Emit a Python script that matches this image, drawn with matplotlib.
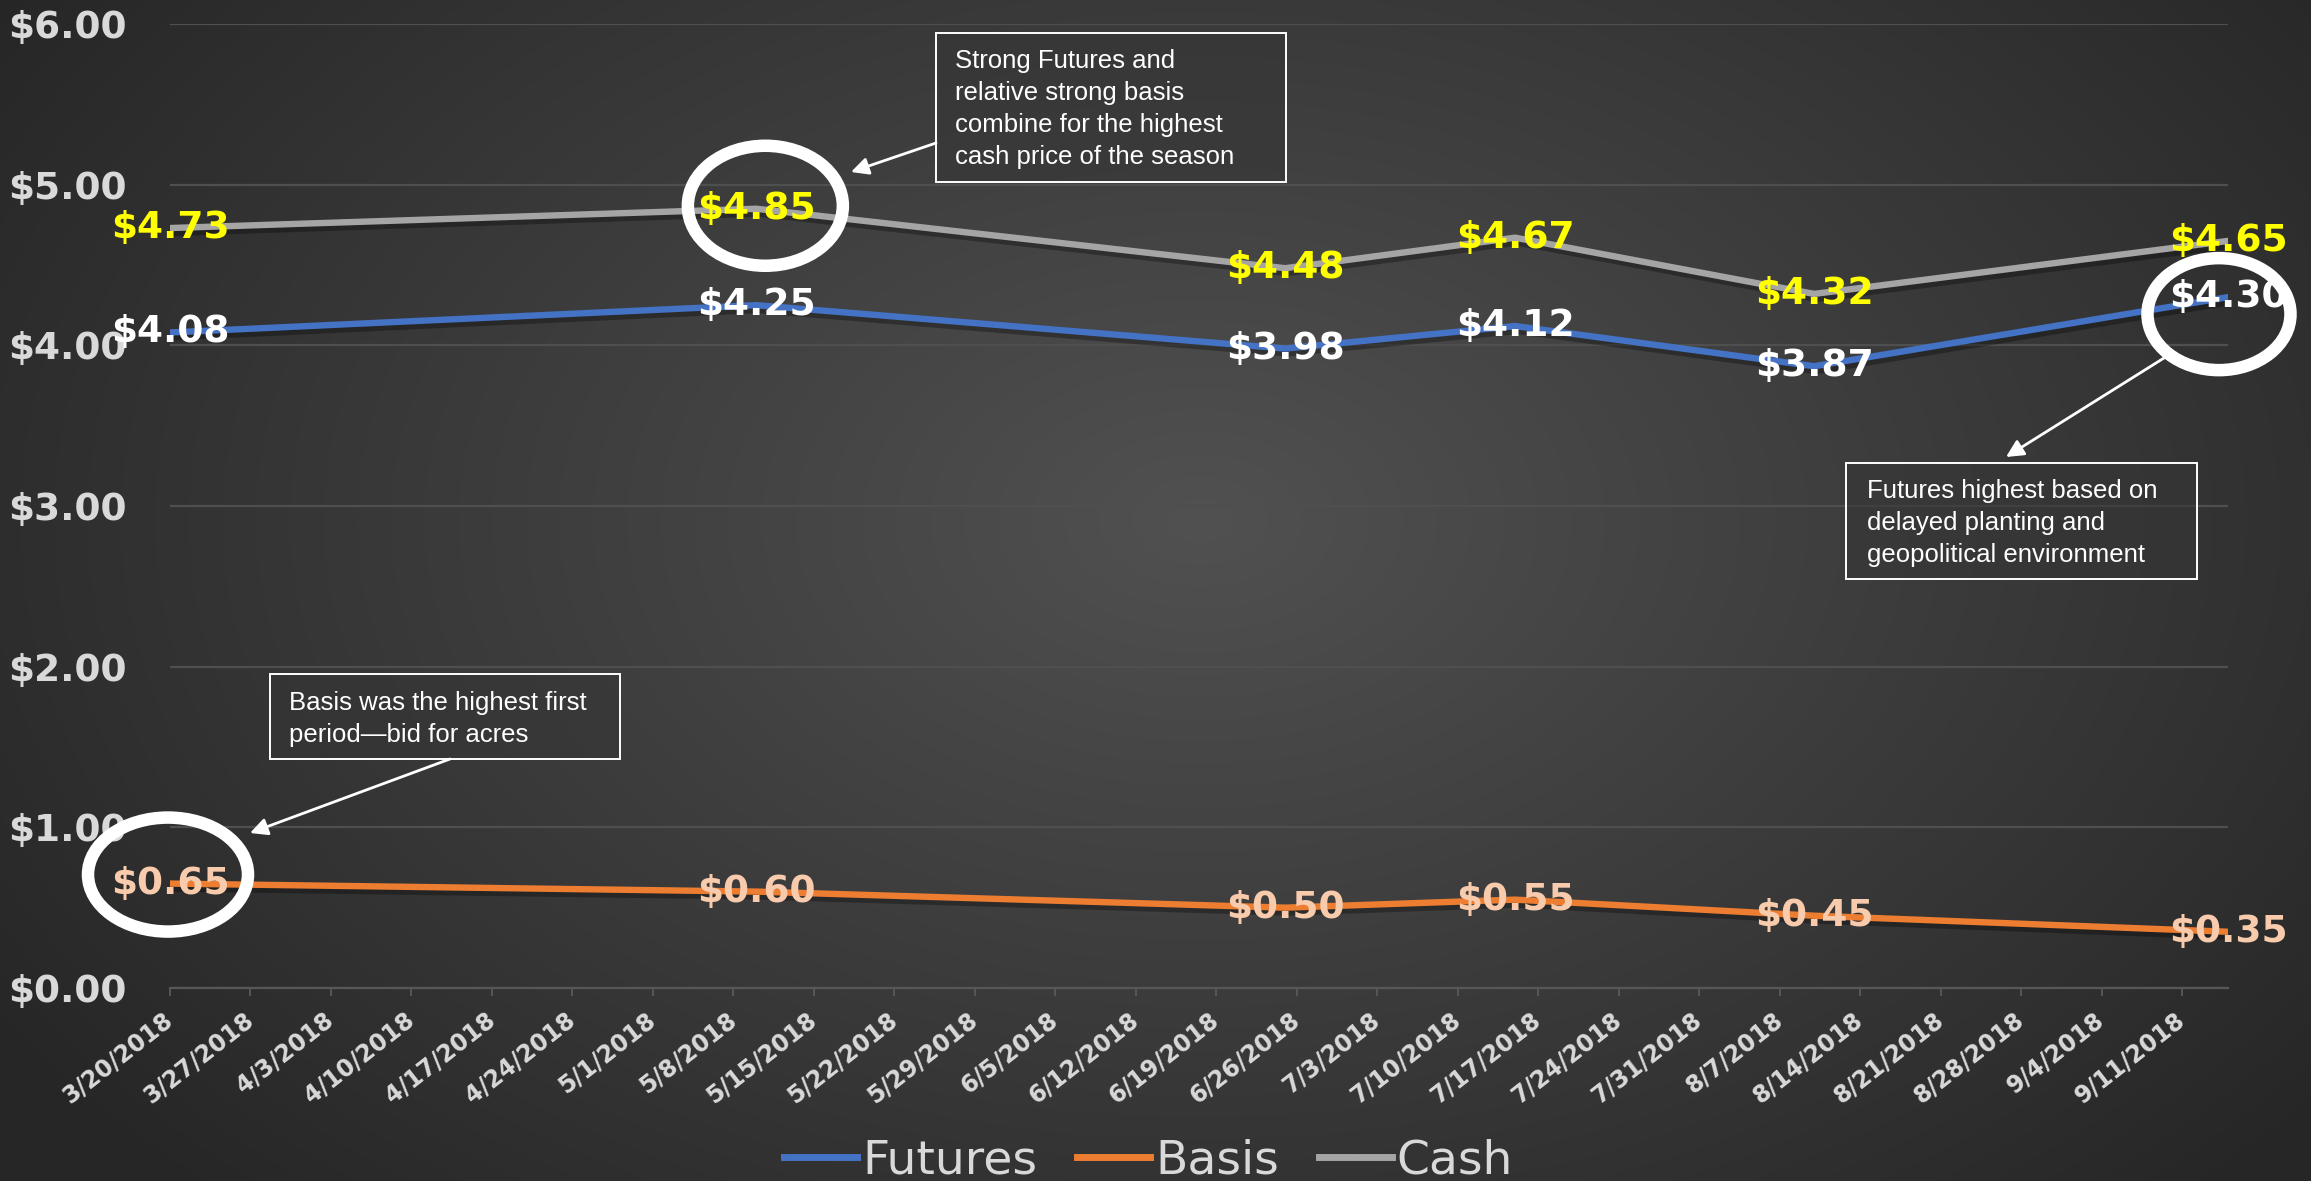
import matplotlib
matplotlib.use("Agg")
import matplotlib.pyplot as plt
import matplotlib.dates as mdates
import matplotlib.patheffects as pe
from matplotlib.patches import Ellipse, Rectangle, FancyArrowPatch
from matplotlib.lines import Line2D
import numpy as np
import pandas as pd

plt.rcParams["font.family"] = ["Liberation Sans", "DejaVu Sans"]

# --- data ---
obs_dates = ["2018-03-20", "2018-05-10", "2018-06-25", "2018-07-15", "2018-08-10", "2018-09-15"]
futures = [4.08, 4.25, 3.98, 4.12, 3.87, 4.30]
basis = [0.65, 0.60, 0.50, 0.55, 0.45, 0.35]
cash = [4.73, 4.85, 4.48, 4.67, 4.32, 4.65]
tick_start, tick_end = "2018-03-20", "2018-09-11"
y_ticks = [0, 1, 2, 3, 4, 5, 6]

notes = [
    "Strong Futures and\nrelative strong basis\ncombine for the highest\ncash price of the season",
    "Basis was the highest first\nperiod\u2014bid for acres",
    "Futures highest based on\ndelayed planting and\ngeopolitical environment",
]

W, H = 2311, 1181
BLUE, ORANGE, GREY = "#4472C4", "#ED7D31", "#A5A5A5"
LABEL_GREY = "#D9D9D9"
WIDE = "DejaVu Sans"   # the slide is stretched sideways; DejaVu's wider glyphs fit better


def fx(x):
    return x / W


def fy(y):
    return 1 - y / H


fig = plt.figure(figsize=(W / 100, H / 100), dpi=100)

# dark radial gradient background like the slide
bg = fig.add_axes([0, 0, 1, 1])
bg.set_axis_off()
yy, xx = np.mgrid[0:H, 0:W]
r = np.clip(np.hypot((xx - 1200) / 1450.0, (yy - 520) / 950.0), 0, 1)
lvl = (0x51 + (0x26 - 0x51) * r) / 255.0
bg.imshow(np.dstack([lvl, lvl, lvl]), aspect="auto", extent=(0, 1, 0, 1))
bg.set_xlim(0, 1)
bg.set_ylim(0, 1)

ax = fig.add_axes([fx(170), fy(988), fx(2228) - fx(170), fy(24) - fy(988)])
ax.patch.set_alpha(0)

x = mdates.date2num(pd.to_datetime(obs_dates))
shadow = [pe.SimpleLineShadow(offset=(1.5, -3.5), shadow_color="black", alpha=0.3),
          pe.Normal()]
for ys, col in [(futures, BLUE), (basis, ORANGE), (cash, GREY)]:
    ax.plot(x, ys, color=col, lw=4.6, solid_joinstyle="miter", zorder=3, path_effects=shadow)

ax.set_xlim(x[0], x[-1])
ax.set_ylim(0, 6)

# axes styling
ax.set_yticks(y_ticks)
ax.set_yticklabels([f"${v:.2f}" for v in y_ticks])
ax.yaxis.grid(True, color="#4f4f4f", lw=1.6, zorder=0)
ax.tick_params(axis="y", length=0, pad=31, labelsize=27, labelcolor=LABEL_GREY)
for side in ["left", "right", "top"]:
    ax.spines[side].set_visible(False)
ax.spines["bottom"].set_color("#575757")
ax.spines["bottom"].set_linewidth(1.6)

tick_dates = pd.date_range(tick_start, tick_end, freq="7D")
ax.set_xticks(mdates.date2num(tick_dates))
ax.set_xticklabels([f"{d.month}/{d.day}/{d.year}" for d in tick_dates])
ax.tick_params(axis="x", length=6, width=1.4, color="#575757", pad=15,
               labelsize=17, labelcolor=LABEL_GREY)
for lab in ax.get_xticklabels() + ax.get_yticklabels():
    lab.set_fontweight("bold")
    lab.set_family(WIDE)
for lab in ax.get_xticklabels():
    lab.set_rotation(38)
    lab.set_ha("right")
    lab.set_va("center")
    lab.set_rotation_mode("anchor")

# data labels
for ys, col in [(cash, "#FFFF00"), (futures, "white"), (basis, "#F8CBAD")]:
    for xi, v in zip(x, ys):
        ax.text(xi, v, f"${v:.2f}", ha="center", va="center", color=col,
                fontsize=27, fontweight="bold", family=WIDE, zorder=5, clip_on=False)


# highlight rings around three points (offset in pixels from the point)
def ring(xi, v, dx, dy, w, h):
    px, py = ax.transData.transform((xi, v))
    cx, cy = (px + dx) / W, (py + dy) / H
    fig.add_artist(Ellipse((cx, cy), w / W, h / H, transform=fig.transFigure,
                           fill=False, ec="white", lw=9, zorder=10))


ring(x[1], cash[1], 9, 3, 155, 120)
ring(x[-1], futures[-1], -9, -17, 143, 112)
ring(x[0], basis[0], -2, 9, 160, 114)


# callout boxes
def callout(text, box, tx, base, arrow):
    x0, y0, x1, y1 = box
    fig.add_artist(Rectangle((fx(x0), fy(y1)), fx(x1) - fx(x0), fy(y0) - fy(y1),
                             transform=fig.transFigure, fc="#353535", alpha=0.55,
                             ec="none", zorder=8))
    fig.add_artist(Rectangle((fx(x0), fy(y1)), fx(x1) - fx(x0), fy(y0) - fy(y1),
                             transform=fig.transFigure, fill=False,
                             ec="white", lw=1.4, zorder=9))
    for i, line in enumerate(text.split("\n")):
        fig.text(fx(tx), fy(base + 32 * i), line, color="white", fontsize=18.5,
                 va="baseline", ha="left", zorder=11)
    (ax0, ay0), (ax1, ay1) = arrow
    fig.add_artist(FancyArrowPatch((fx(ax0), fy(ay0)), (fx(ax1), fy(ay1)),
                                   transform=fig.transFigure, arrowstyle="-|>",
                                   mutation_scale=26, color="white", lw=2,
                                   shrinkA=0, shrinkB=0, zorder=11))


callout(notes[0], (936, 33, 1286, 182), 955, 68, ((936, 143), (851, 172)))
callout(notes[1], (270, 674, 620, 759), 289, 710, ((450, 759), (250, 833)))
callout(notes[2], (1846, 463, 2197, 579), 1867, 498, ((2164, 358), (2006, 457)))

handles = [Line2D([], [], color=c, lw=5) for c in (BLUE, ORANGE, GREY)]
fig.legend(handles, ["Futures", "Basis", "Cash"], loc="lower center",
           bbox_to_anchor=(0.497, -0.038), ncol=3, frameon=False,
           prop={"family": WIDE, "size": 34},
           handlelength=1.55, handletextpad=0.1, columnspacing=0.85,
           labelcolor=LABEL_GREY)

fig.savefig("out.png", dpi=100)
